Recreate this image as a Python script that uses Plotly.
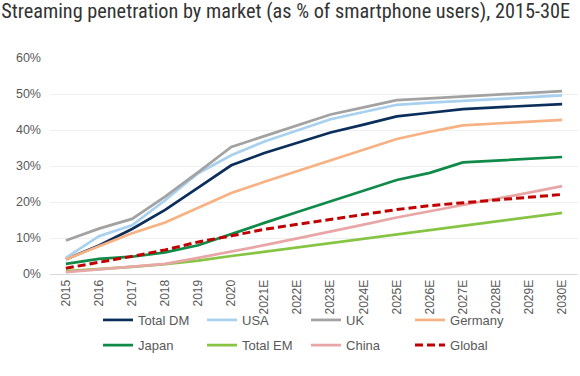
import plotly.graph_objects as go

years = ["2015", "2016", "2017", "2018", "2019", "2020", "2021E", "2022E", "2023E",
         "2024E", "2025E", "2026E", "2027E", "2028E", "2029E", "2030E"]

total_dm = [4.1, 7.9, 12.5, 17.8, 24.0, 30.2, 33.6, 36.5, 39.3, 41.5, 43.8, 44.8, 45.8, 46.3, 46.8, 47.2]
usa      = [4.5, 10.5, 13.5, 20.5, 28.0, 33.0, 36.8, 40.0, 43.0, 45.0, 47.0, 47.6, 48.1, 48.6, 49.1, 49.6]
uk       = [9.3, 12.6, 15.3, 21.5, 28.3, 35.3, 38.3, 41.3, 44.3, 46.3, 48.3, 48.8, 49.3, 49.8, 50.3, 50.8]
germany  = [4.1, 7.8, 11.3, 14.3, 18.5, 22.5, 25.6, 28.6, 31.6, 34.6, 37.5, 39.5, 41.3, 41.8, 42.3, 42.8]
japan    = [2.8, 4.2, 4.8, 6.0, 8.0, 11.2, 14.2, 17.2, 20.1, 23.1, 26.1, 28.1, 31.0, 31.5, 32.0, 32.5]
total_em = [0.8, 1.3, 2.0, 2.7, 3.7, 5.0, 6.2, 7.5, 8.7, 9.9, 11.0, 12.3, 13.5, 14.7, 15.9, 17.0]
china    = [0.5, 1.2, 2.0, 2.8, 4.5, 6.2, 8.0, 9.9, 11.7, 13.7, 15.7, 17.5, 19.2, 20.9, 22.6, 24.4]
global_  = [1.6, 3.2, 4.9, 6.7, 8.9, 10.6, 12.4, 13.8, 15.2, 16.6, 17.9, 19.0, 19.8, 20.6, 21.4, 22.1]

series = [
    ("Total DM", total_dm, "#0b2f5a", "solid", "legend"),
    ("USA", usa, "#a8d0ef", "solid", "legend"),
    ("UK", uk, "#a2a2a2", "solid", "legend"),
    ("Germany", germany, "#f7b183", "solid", "legend"),
    ("Japan", japan, "#0f8a48", "solid", "legend2"),
    ("Total EM", total_em, "#86c443", "solid", "legend2"),
    ("China", china, "#e8a6a6", "solid", "legend2"),
    ("Global", global_, "#c00000", "dash", "legend2"),
]

fig = go.Figure()
for n, vals, color, dash, leg in series:
    fig.add_trace(go.Scatter(
        x=years, y=vals, name=n, mode="lines",
        line=dict(color=color, width=3 if dash == "dash" else 2.7,
                  dash="solid" if dash == "solid" else "8px,4px"),
        legend=leg,
    ))

leg_common = dict(orientation="h", xref="container", yref="container",
                  xanchor="left", yanchor="middle", entrywidth=59, entrywidthmode="pixels",
                  font=dict(size=13, color="#595959"), bgcolor="rgba(0,0,0,0)")

fig.update_layout(
    width=580, height=376,
    margin=dict(l=50, r=2, t=58, b=102),
    paper_bgcolor="white", plot_bgcolor="white",
    font=dict(family="Liberation Sans, Arial, sans-serif", color="#595959", size=12),
    title=dict(
        text="Streaming penetration by market (as % of smartphone users), 2015-30E",
        x=0.002, xanchor="left", y=0.99, yanchor="top", xref="container", yref="container",
        font=dict(family="Roboto Condensed, sans-serif", size=20.3, color="#333333"),
    ),
    xaxis=dict(
        type="category", range=[-0.48, 15.48], tickangle=-90, automargin=False,
        showgrid=False, showline=True, linecolor="#d9d9d9", linewidth=1,
        ticks="", tickfont=dict(size=12, color="#595959"),
    ),
    yaxis=dict(
        range=[0, 60], dtick=10, ticksuffix="%", showgrid=True, gridcolor="#efefef",
        zeroline=False, showline=False, ticks="", automargin=False, ticklabelstandoff=8,
        tickfont=dict(size=12.5, color="#595959"),
    ),
    legend=dict(x=0.169, y=0.149, **leg_common),
    legend2=dict(x=0.169, y=0.082, **leg_common),
)

fig.write_html("out.html", config={"displayModeBar": False},
               post_script="document.body.style.margin='0';")
